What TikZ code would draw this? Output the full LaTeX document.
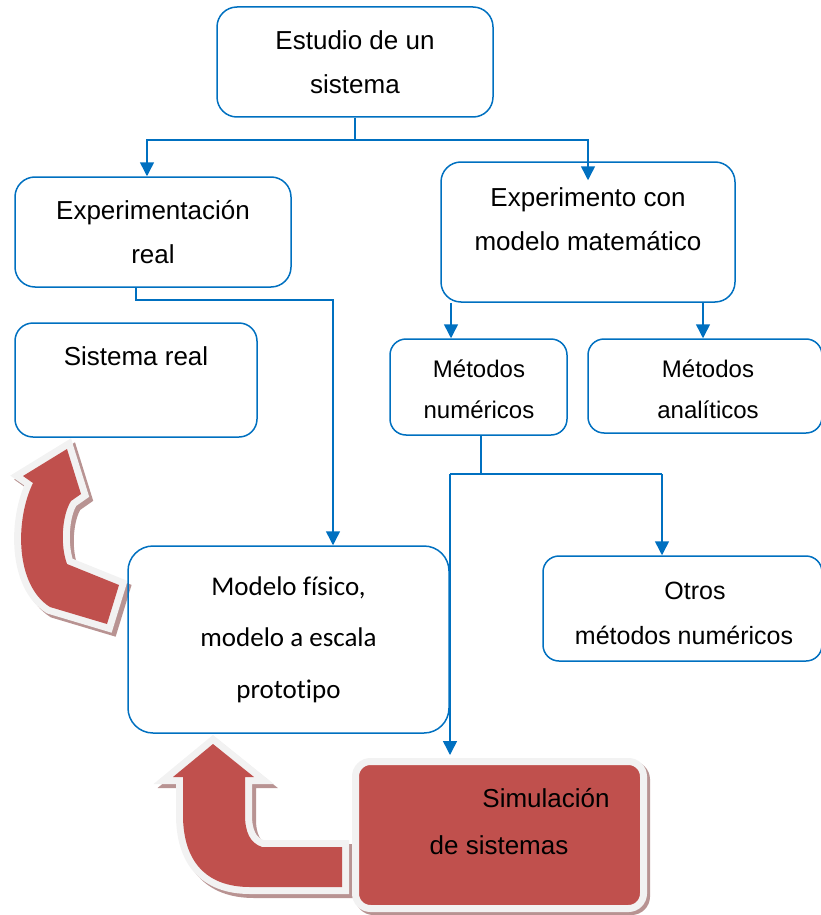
\documentclass[tikz,border=0pt]{standalone}
\usepackage{fontspec}
\setmainfont{Liberation Sans}
\newfontfamily\calib[Ligatures=NoCommon]{Carlito}
\usetikzlibrary{arrows.meta}
\definecolor{bl}{HTML}{0070C0}
\definecolor{redc}{HTML}{C0504D}
\definecolor{wcol}{HTML}{F2F2F2}
\definecolor{shc}{HTML}{B89392}
\begin{document}
\begin{tikzpicture}[x=1pt,y=-1pt,
 box/.style={draw=bl, line width=1.5pt, rounded corners=20pt, align=center, inner sep=0pt},
 conn/.style={draw=bl, line width=1.5pt},
 arr/.style={conn, -{Triangle[length=14pt,width=14pt]}},
 big/.style={font=\fontsize{26}{44}\selectfont},
 small/.style={font=\fontsize{24}{41}\selectfont},
 redshadow/.style={draw=shc, fill=shc, line width=14pt, transform canvas={xshift=4pt,yshift=-4pt}},
 redoutline/.style={draw=wcol, line width=14pt},
 redfill/.style={fill=redc},
]
\useasboundingbox (0,0) rectangle (820,915);

% red curved arrows
\def\arrA{(119,585) -- (67,564) .. controls (60,545) and (62,515) .. (71,501) -- (81,494) -- (67,449) -- (23,476) -- (33,483) .. controls (15,520) and (15,585) .. (50,607) -- (107,624) -- cycle}
\def\arrB{(342,847) -- (262,847) .. controls (250,843) and (245,832) .. (245,815) -- (245,777) -- (254,777) -- (213,744) -- (173,777) -- (183,777) -- (183,815) .. controls (183,860) and (205,887) .. (250,887) -- (342,887) -- cycle}
\path[redshadow] \arrA;
\path[redoutline] \arrA;
\path[redfill] \arrA;
\path[redshadow] \arrB;
\path[redoutline] \arrB;
\path[redfill] \arrB;

% boxes
\node[box, big, minimum width=276pt, minimum height=110pt] (estudio) at (355,62) {Estudio de un\\sistema};
\node[box, big, minimum width=276pt, minimum height=110pt] (exreal) at (153,232) {Experimentación\\real};
\node[box, minimum width=294pt, minimum height=140pt] (exmat) at (588,232) {};
\node[big, anchor=base] (exmatA) at (588,206) {Experimento con};
\node[big, anchor=base] (exmatB) at (588,250) {modelo matemático};
\node[box, rounded corners=18pt, minimum width=242pt, minimum height=114pt] (sisreal) at (136,380) {};
\node[big, anchor=base] (sisrealT) at (136,365) {Sistema real};
\node[box, rounded corners=16pt, minimum width=177pt, minimum height=96pt] (metnum) at (478.5,387) {};
\node[small, align=center] (metnumT) at (479,389.5) {Métodos\\numéricos};
\node[box, rounded corners=16pt, minimum width=234pt, minimum height=94pt] (metana) at (705,386) {};
\node[small, align=center] (metanaT) at (708,389.5) {Métodos\\analíticos};
\node[box, rounded corners=16pt, minimum width=279pt, minimum height=105pt] (otros) at (682.5,608.5) {};
\node[font=\fontsize{25}{45}\selectfont, align=center] (otrosT) at (684,613) {\hspace*{22pt}Otros\\métodos numéricos};
\node[box, font=\calib\fontsize{27}{51.5}\selectfont, rounded corners=25pt, minimum width=321pt, minimum height=187pt] (modelo) at (288.5,639.5) {Modelo físico,\\modelo a escala\\prototipo};

\node[draw=wcol, line width=7pt, fill=redc, rounded corners=15pt, minimum width=288pt, minimum height=147pt, inner sep=0pt,
 preaction={draw=shc, fill=shc, transform canvas={xshift=3pt,yshift=-3pt}}] (sim) at (499.5,835) {};
\node[big, anchor=base] (simA) at (546,807) {Simulación};
\node[big, anchor=base] (simB) at (499,854) {de sistemas};

% connectors
\coordinate (j1) at (355,140);
\draw[conn] (estudio.south) -- (j1);
\draw[arr] (j1) -| ([xshift=-6pt]exreal.north);
\draw[arr] (j1) -| ([yshift=-19pt]exmat.north);

\coordinate (e0) at ([xshift=-17pt]exreal.south);
\coordinate (j2) at (333,300);
\draw[arr] (e0) |- (j2) -- (modelo.north -| j2);

\coordinate (e1) at ([xshift=-137pt]exmat.south);
\coordinate (e2) at ([xshift=115pt]exmat.south);
\draw[arr] (e1) -- (e1 |- metnum.north);
\draw[arr] (e2) -- (e2 |- metana.north);

\coordinate (n1) at ([xshift=2.5pt]metnum.south);
\coordinate (j3) at (481,474);
\coordinate (jl) at (450,474);
\coordinate (jr) at (662,474);
\coordinate (st) at ([yshift=3pt]sim.north);
\draw[conn] (n1) -- (j3);
\draw[conn] (jl) -- (jr);
\draw[arr] (jr) -- (jr |- otros.north);
\draw[arr] (jl) -- (jl |- st);
\end{tikzpicture}
\end{document}
